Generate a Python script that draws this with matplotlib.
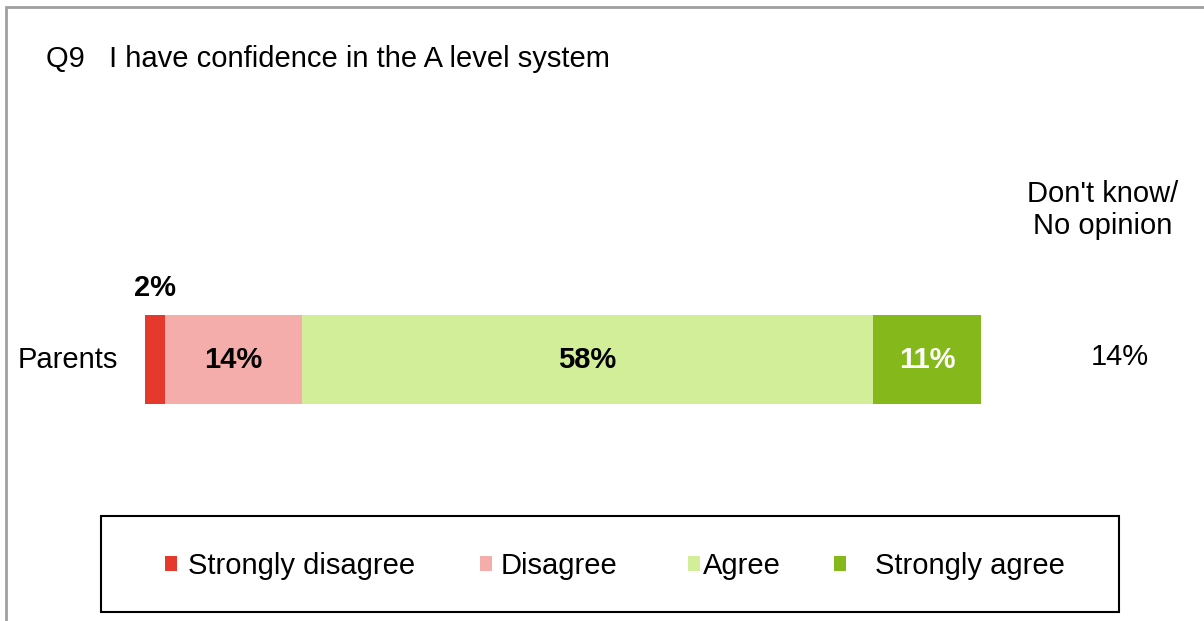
import matplotlib
matplotlib.use("Agg")
import matplotlib.pyplot as plt
from matplotlib.patches import Rectangle

plt.rcParams['font.family'] = ['Liberation Sans', 'DejaVu Sans']

# Survey data
title = "Q9   I have confidence in the A level system"
group = "Parents"
categories = ["Strongly disagree", "Disagree", "Agree", "Strongly agree"]
values = [2, 14, 58, 11]
colors = ["#E6392E", "#F4ADAB", "#D3EE98", "#85B81B"]
label_colors = ["black", "black", "black", "white"]
dont_know_label = "Don't know/\nNo opinion"
dont_know_value = 14

W, H = 1204, 621
FS = 21
fig = plt.figure(figsize=(W / 100, H / 100), dpi=100)


def fx(px):
    return px / W


def fy(py):
    return 1 - py / H


# Outer frame
fig.patches.append(Rectangle((fx(6), fy(640)), fx(1200), fy(7) - fy(640),
                             transform=fig.transFigure, fill=False,
                             edgecolor="#A0A0A0", linewidth=2))

fig.text(fx(46), fy(59), title, fontsize=FS, va="center", ha="left")

# Bar axes
ax = fig.add_axes([fx(145), fy(404), fx(981) - fx(145), fy(315) - fy(404)])
ax.set_xlim(0, sum(values))
ax.set_ylim(-0.5, 0.5)
ax.axis("off")

left = 0
for cat, v, c, lc in zip(categories, values, colors, label_colors):
    ax.barh(0, v, left=left, height=1.0, color=c, edgecolor="none")
    cx = left + v / 2
    if v < 5:
        ax.text(cx, 0.5 + 0.30, f"{v}%", ha="center", va="center",
                fontsize=FS, fontweight="bold", color="black", clip_on=False)
    else:
        ax.text(cx, 0, f"{v}%", ha="center", va="center",
                fontsize=FS, fontweight="bold", color=lc)
    left += v

fig.text(fx(118), fy(360), group, fontsize=FS, ha="right", va="center")

fig.text(fx(1103), fy(210), dont_know_label, fontsize=FS, ha="center",
         va="center", linespacing=1.15)
fig.text(fx(1120), fy(357), f"{dont_know_value}%", fontsize=FS,
         ha="center", va="center")

# Legend box
fig.patches.append(Rectangle((fx(101), fy(612)), fx(1119) - fx(101),
                             fy(516) - fy(612), transform=fig.transFigure,
                             fill=False, edgecolor="black", linewidth=1.5))
square_x = [165, 480, 688, 834]
text_x = [188, 501, 703, 875]
for cat, c, sx, tx in zip(categories, colors, square_x, text_x):
    fig.patches.append(Rectangle((fx(sx), fy(571)), fx(12), fy(556) - fy(571),
                                 transform=fig.transFigure, facecolor=c,
                                 edgecolor="none"))
    fig.text(fx(tx), fy(566), cat, fontsize=FS, ha="left", va="center")

fig.savefig("out.png", dpi=100, facecolor="white")
